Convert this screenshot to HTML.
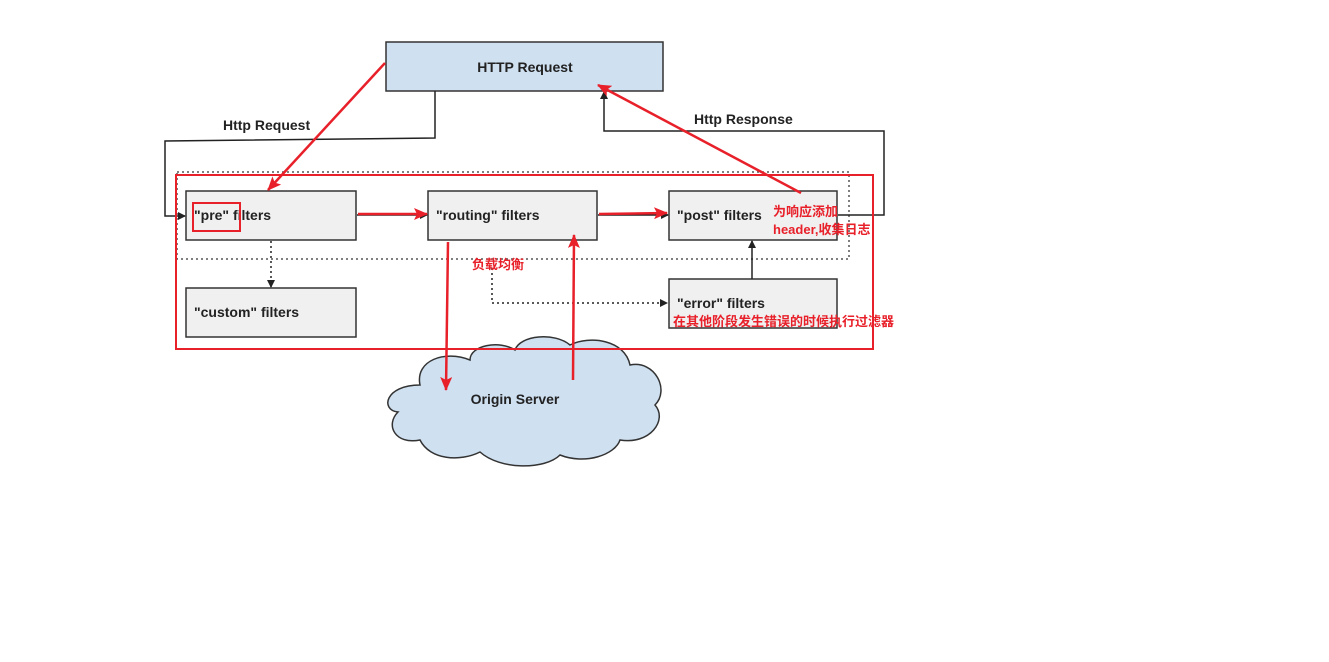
<!DOCTYPE html>
<html><head><meta charset="utf-8"><style>
body{margin:0;background:#fff;}
svg{display:block;font-family:"Liberation Sans","Noto Sans CJK SC",sans-serif;}
</style></head><body>
<svg width="1329" height="662" viewBox="0 0 1329 662" xmlns="http://www.w3.org/2000/svg">
<defs>
<marker id="bk" markerWidth="8" markerHeight="8" refX="7" refY="4" orient="auto" markerUnits="userSpaceOnUse"><path d="M0,0 L8,4 L0,8 z" fill="#222"/></marker>
<marker id="rd" markerWidth="14" markerHeight="12" refX="13" refY="6" orient="auto" markerUnits="userSpaceOnUse"><path d="M0,0 L14,6 L0,12 L3,6 z" fill="#e8202a"/></marker>
</defs>
<!-- dotted group -->
<rect x="177" y="172" width="672" height="87" fill="none" stroke="#555" stroke-width="1.5" stroke-dasharray="2,3"/>
<!-- boxes -->
<rect x="386" y="42" width="277" height="49" fill="#cfe0f1" stroke="#333" stroke-width="1.5"/>
<text x="525" y="72" font-size="14" font-weight="bold" text-anchor="middle" fill="#222">HTTP Request</text>
<rect x="186" y="191" width="170" height="49" fill="#f0f0f0" stroke="#333" stroke-width="1.5"/>
<text x="194" y="220" font-size="14" font-weight="bold" fill="#222">"pre" filters</text>
<rect x="428" y="191" width="169" height="49" fill="#f0f0f0" stroke="#333" stroke-width="1.5"/>
<text x="436" y="220" font-size="14" font-weight="bold" fill="#222">"routing" filters</text>
<rect x="669" y="191" width="168" height="49" fill="#f0f0f0" stroke="#333" stroke-width="1.5"/>
<text x="677" y="220" font-size="14" font-weight="bold" fill="#222">"post" filters</text>
<rect x="186" y="288" width="170" height="49" fill="#f0f0f0" stroke="#333" stroke-width="1.5"/>
<text x="194" y="317" font-size="14" font-weight="bold" fill="#222">"custom" filters</text>
<rect x="669" y="279" width="168" height="49" fill="#f0f0f0" stroke="#333" stroke-width="1.5"/>
<text x="677" y="308" font-size="14" font-weight="bold" fill="#222">"error" filters</text>
<!-- cloud -->
<path d="M420,385 C385,385 380,410 398,412 C385,425 395,445 420,440 C430,460 460,462 480,452 C500,470 545,470 560,455 C585,465 615,455 620,440 C650,445 668,420 655,405 C670,390 655,360 630,365 C625,340 590,335 570,345 C555,332 520,335 515,350 C500,340 470,345 470,360 C445,350 415,360 420,385 z" fill="#cfe0f1" stroke="#333" stroke-width="1.5"/>
<text x="515" y="404" font-size="14" font-weight="bold" text-anchor="middle" fill="#222">Origin Server</text>
<!-- black connectors -->
<polyline points="435,91 435,138 165,141 165,216 185,216" fill="none" stroke="#222" stroke-width="1.5" marker-end="url(#bk)"/>
<text x="223" y="130" font-size="14" font-weight="bold" fill="#222">Http Request</text>
<polyline points="838,215 884,215 884,131 604,131 604,92" fill="none" stroke="#222" stroke-width="1.5" marker-end="url(#bk)"/>
<text x="694" y="124" font-size="14" font-weight="bold" fill="#222">Http Response</text>
<line x1="357" y1="215" x2="427" y2="215" stroke="#222" stroke-width="1.5" marker-end="url(#bk)"/>
<line x1="598" y1="215" x2="668" y2="215" stroke="#222" stroke-width="1.5" marker-end="url(#bk)"/>
<line x1="752" y1="279" x2="752" y2="241" stroke="#222" stroke-width="1.5" marker-end="url(#bk)"/>
<line x1="271" y1="241" x2="271" y2="287" stroke="#222" stroke-width="1.5" stroke-dasharray="2,3" marker-end="url(#bk)"/>
<polyline points="492,268 492,303 667,303" fill="none" stroke="#222" stroke-width="1.5" stroke-dasharray="2,3" marker-end="url(#bk)"/>
<!-- red overlay -->
<rect x="176" y="175" width="697" height="174" fill="none" stroke="#e8202a" stroke-width="2"/>
<rect x="193" y="203" width="47" height="28" fill="none" stroke="#e8202a" stroke-width="2"/>
<g stroke="#e8202a" stroke-width="2.5" fill="none">
<line x1="385" y1="63" x2="268" y2="190" marker-end="url(#rd)"/>
<line x1="358" y1="214" x2="427" y2="214" marker-end="url(#rd)"/>
<line x1="599" y1="214" x2="667" y2="213" marker-end="url(#rd)"/>
<line x1="801" y1="193" x2="598" y2="85" marker-end="url(#rd)"/>
<line x1="448" y1="242" x2="446" y2="390" marker-end="url(#rd)"/>
<line x1="573" y1="380" x2="574" y2="235" marker-end="url(#rd)"/>
</g>
<g fill="#e8202a" font-size="13" font-weight="bold">
<text x="773" y="216">为响应添加</text>
<text x="773" y="234">header,收集日志</text>
<text x="472" y="269">负载均衡</text>
<text x="673" y="326">在其他阶段发生错误的时候执行过滤器</text>
</g>
</svg>
</body></html>
